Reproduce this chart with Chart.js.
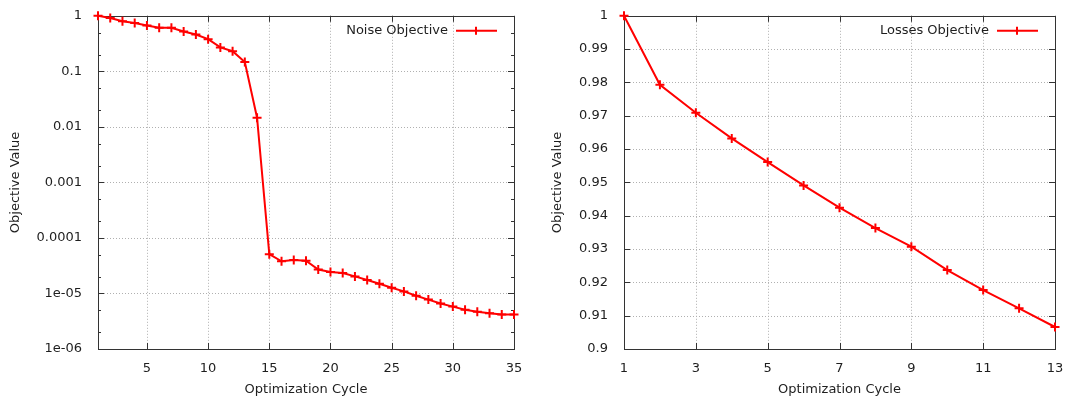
<!DOCTYPE html>
<html><head><meta charset="utf-8">
<script src="https://cdn.jsdelivr.net/npm/chart.js@4/dist/chart.umd.min.js"></script>
<style>
html,body{margin:0;padding:0;background:#fff;}
#wrap{position:relative;width:1069px;height:398px;}
#c1{position:absolute;left:0;top:0;}
#c2{position:absolute;left:534px;top:0;}
</style></head><body>
<div id="wrap">
<canvas id="c1" width="534" height="398"></canvas>
<canvas id="c2" width="535" height="398"></canvas>
</div>
<script>
// ---- Data ----
const noiseCycles = [1,2,3,4,5,6,7,8,9,10,11,12,13,14,15,16,17,18,19,20,21,22,23,24,25,26,27,28,29,30,31,32,33,34,35];
const noiseValues = [1.0,0.91,0.80,0.74,0.67,0.61,0.61,0.52,0.46,0.38,0.27,0.23,0.147,0.0146,5.1e-5,3.8e-5,4.0e-5,3.9e-5,2.7e-5,2.43e-5,2.33e-5,2.03e-5,1.75e-5,1.5e-5,1.27e-5,1.09e-5,9.1e-6,7.75e-6,6.6e-6,5.8e-6,5.1e-6,4.7e-6,4.4e-6,4.2e-6,4.2e-6];
const lossCycles = [1,2,3,4,5,6,7,8,9,10,11,12,13];
const lossValues = [1.0,0.9793,0.9709,0.9632,0.9561,0.9491,0.9424,0.9363,0.9307,0.9237,0.9177,0.9122,0.9066];
const noiseXTicks = [5,10,15,20,25,30,35];
const noiseYTicks = [1e-6,1e-5,1e-4,1e-3,1e-2,1e-1,1];
const noiseYLabels = ['1e-06','1e-05','0.0001','0.001','0.01','0.1','1'];
const noiseYMinor = [2,5];
const lossXTicks = [1,3,5,7,9,11,13];
const lossYTicks = [0.9,0.91,0.92,0.93,0.94,0.95,0.96,0.97,0.98,0.99,1.0];
const lossYLabels = ['0.9','0.91','0.92','0.93','0.94','0.95','0.96','0.97','0.98','0.99','1'];

const FONT = 'DejaVu Sans';
const TXT = '#1e1e1e';
Chart.defaults.font.family = FONT;
Chart.defaults.font.size = 13;
Chart.defaults.color = TXT;

const framePlugin = {
  id: 'frame',
  beforeDatasetsDraw(chart, args, opts) {
    const ctx = chart.ctx, a = chart.chartArea;
    const xs = chart.scales.x, ys = chart.scales.y;
    ctx.save();
    // grid
    ctx.strokeStyle = '#b0b0b0';
    ctx.lineWidth = 1;
    ctx.setLineDash([1,2]);
    ctx.beginPath();
    opts.xTicks.forEach(v => {
      const px = Math.round(xs.getPixelForValue(v)) + 0.5;
      if (px > a.left + 1 && px < a.right - 1) { ctx.moveTo(px, a.top); ctx.lineTo(px, a.bottom); }
    });
    opts.yTicks.forEach(v => {
      const py = Math.round(ys.getPixelForValue(v)) + 0.5;
      if (py > a.top + 1 && py < a.bottom - 1) { ctx.moveTo(a.left, py); ctx.lineTo(a.right, py); }
    });
    ctx.stroke();
    ctx.setLineDash([]);
    // ticks
    ctx.strokeStyle = '#333';
    ctx.beginPath();
    const L = 6, Lm = 3;
    opts.xTicks.forEach(v => {
      const px = Math.round(xs.getPixelForValue(v)) + 0.5;
      ctx.moveTo(px, a.bottom); ctx.lineTo(px, a.bottom - L);
      ctx.moveTo(px, a.top); ctx.lineTo(px, a.top + L);
    });
    opts.yTicks.forEach(v => {
      const py = Math.round(ys.getPixelForValue(v)) + 0.5;
      ctx.moveTo(a.left, py); ctx.lineTo(a.left + L, py);
      ctx.moveTo(a.right, py); ctx.lineTo(a.right - L, py);
    });
    (opts.yMinor || []).forEach(v => {
      const py = Math.round(ys.getPixelForValue(v)) + 0.5;
      ctx.moveTo(a.left, py); ctx.lineTo(a.left + Lm, py);
      ctx.moveTo(a.right, py); ctx.lineTo(a.right - Lm, py);
    });
    ctx.stroke();
    // frame
    ctx.strokeStyle = '#333';
    ctx.strokeRect(Math.round(a.left)+0.5, Math.round(a.top)+0.5, Math.round(a.right-a.left), Math.round(a.bottom-a.top));
    ctx.restore();
  },
  afterDatasetsDraw(chart, args, opts) {
    const ctx = chart.ctx, a = chart.chartArea;
    const ds = chart.data.datasets[0];
    const y = a.top + 15;
    ctx.save();
    ctx.font = '13px ' + FONT;
    ctx.fillStyle = TXT;
    ctx.textAlign = 'right';
    ctx.textBaseline = 'middle';
    ctx.fillText(ds.label, a.right - 66, y);
    ctx.strokeStyle = '#ff0000';
    ctx.lineWidth = 2;
    ctx.beginPath();
    ctx.moveTo(a.right - 58, y); ctx.lineTo(a.right - 17, y);
    const mx = a.right - 38;
    ctx.moveTo(mx - 4, y); ctx.lineTo(mx + 4, y);
    ctx.moveTo(mx, y - 4); ctx.lineTo(mx, y + 4);
    ctx.stroke();
    ctx.restore();
  }
};

function makeChart(id, xs, ys, label, cfg) {
  return new Chart(document.getElementById(id), {
    type: 'line',
    data: {
      datasets: [{
        label: label,
        data: xs.map((x, i) => ({x: x, y: ys[i]})),
        borderColor: '#ff0000',
        backgroundColor: '#ff0000',
        borderWidth: 2,
        pointStyle: 'cross',
        pointRadius: 4.5,
        pointBorderWidth: 2,
        pointBorderColor: '#ff0000',
        tension: 0,
        clip: false
      }]
    },
    options: {
      responsive: false,
      animation: false,
      events: [],
      layout: {padding: {left: 0, right: cfg.padRight, top: 15, bottom: 0}},
      plugins: {
        legend: {display: false},
        tooltip: {enabled: false},
        frame: {xTicks: cfg.xTicks, yTicks: cfg.yTicks, yMinor: cfg.yMinor}
      },
      scales: {
        x: {
          type: 'linear',
          min: cfg.xMin, max: cfg.xMax,
          grid: {display: false},
          border: {display: false},
          afterBuildTicks: s => { s.ticks = cfg.xTicks.map(v => ({value: v})); },
          afterFit: s => { s.height = 49; },
          ticks: {padding: 4, color: TXT, font: {size: 13}, maxRotation: 0, autoSkip: false,
                  callback: v => String(v)},
          title: {display: true, text: 'Optimization Cycle', color: TXT, font: {size: 13}, padding: {top: 0, bottom: 1}}
        },
        y: {
          type: cfg.yType,
          min: cfg.yMin, max: cfg.yMax,
          grid: {display: false},
          border: {display: false},
          afterBuildTicks: s => { s.ticks = cfg.yTicks.map(v => ({value: v})); },
          afterFit: s => { s.width = cfg.yWidth; },
          ticks: {padding: 8, color: TXT, font: {size: 13}, autoSkip: false,
                  callback: (v) => { const i = cfg.yTicks.findIndex(t => Math.abs(t - v) < 1e-12 + Math.abs(v)*1e-6); return i >= 0 ? cfg.yLabels[i] : ''; }},
          title: {display: true, text: 'Objective Value', color: TXT, font: {size: 13}, padding: {top: cfg.titlePad, bottom: 0}}
        }
      }
    },
    plugins: [framePlugin]
  });
}

const minorLeft = [];
for (let e = -6; e < 0; e++) noiseYMinor.forEach(m => minorLeft.push(m * Math.pow(10, e)));

makeChart('c1', noiseCycles, noiseValues, 'Noise Objective', {
  xMin: 1, xMax: 35, xTicks: noiseXTicks,
  yType: 'logarithmic', yMin: 1e-6, yMax: 1, yTicks: noiseYTicks, yLabels: noiseYLabels, yMinor: minorLeft,
  yWidth: 98, padRight: 20, titlePad: 8
});
makeChart('c2', lossCycles, lossValues, 'Losses Objective', {
  xMin: 1, xMax: 13, xTicks: lossXTicks,
  yType: 'linear', yMin: 0.9, yMax: 1.0, yTicks: lossYTicks, yLabels: lossYLabels, yMinor: [],
  yWidth: 90, padRight: 14, titlePad: 16
});
</script>
</body></html>
